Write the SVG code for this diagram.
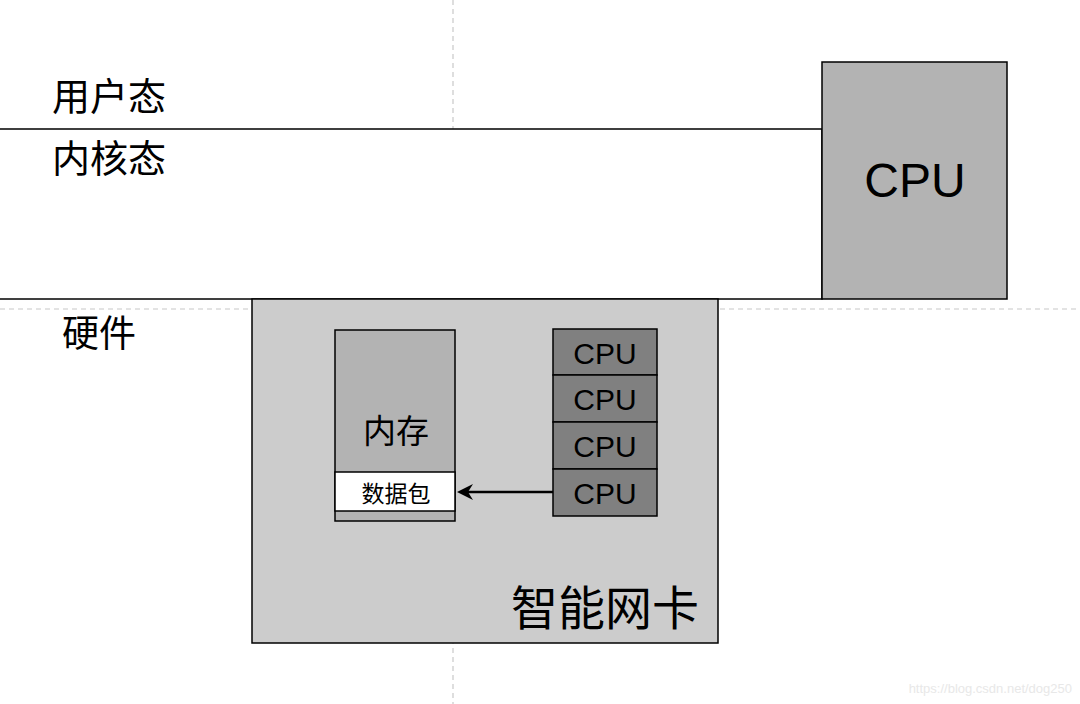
<svg xmlns="http://www.w3.org/2000/svg" width="1080" height="704" viewBox="0 0 1080 704">
<defs>
<style>
.cjk{font-family:"Noto Sans CJK SC","Noto Sans CJK JP",sans-serif;fill:#000}
.lat{font-family:"Liberation Sans",Arial,sans-serif;fill:#000}
.box{stroke:#000;stroke-width:1.5}
.dash{stroke:#c8c8c8;stroke-width:1.2;stroke-dasharray:5 4;fill:none}
</style>
<marker id="ah" viewBox="0 0 16 16" refX="1" refY="8" markerWidth="16" markerHeight="16" markerUnits="userSpaceOnUse" orient="auto">
<path d="M0,8 L16,0 L11,8 L16,16 Z" fill="#000"/>
</marker>
</defs>
<rect width="1080" height="704" fill="#fff"/>
<g id="guides">
<line class="dash" x1="453" y1="0" x2="453" y2="704"/>
<line class="dash" x1="0" y1="309" x2="1080" y2="309"/>
</g>
<g id="kernel">
<rect x="-2" y="129" width="824" height="170" fill="#fff" class="box"/>
</g>
<g id="labels">
<text class="cjk" x="52" y="110" font-size="38">用户态</text>
<text class="cjk" x="52" y="172" font-size="38">内核态</text>
<text class="cjk" x="62" y="347" font-size="37">硬件</text>
</g>
<g id="cpu-main">
<rect x="822" y="62" width="185" height="237" fill="#b3b3b3" class="box"/>
<text class="lat" x="915" y="197" font-size="48" text-anchor="middle">CPU</text>
</g>
<g id="smartnic">
<rect x="252" y="299" width="466" height="344" fill="#cccccc" class="box"/>
<text class="cjk" x="605" y="625" font-size="47" text-anchor="middle">智能网卡</text>
</g>
<g id="memory">
<rect x="335" y="330" width="120" height="191" fill="#b3b3b3" class="box"/>
<text class="cjk" x="396" y="443" font-size="33" text-anchor="middle">内存</text>
</g>
<g id="packet">
<rect x="335" y="472" width="120" height="39" fill="#fff" class="box"/>
<text class="cjk" x="396" y="502" font-size="23" text-anchor="middle">数据包</text>
</g>
<g id="nic-cpus">
<rect x="553" y="329" width="104" height="46" fill="#808080" class="box"/>
<rect x="553" y="375" width="104" height="47" fill="#808080" class="box"/>
<rect x="553" y="422" width="104" height="47" fill="#808080" class="box"/>
<rect x="553" y="469" width="104" height="47" fill="#808080" class="box"/>
<text class="lat" x="605" y="364" font-size="30" text-anchor="middle">CPU</text>
<text class="lat" x="605" y="410" font-size="30" text-anchor="middle">CPU</text>
<text class="lat" x="605" y="457" font-size="30" text-anchor="middle">CPU</text>
<text class="lat" x="605" y="504" font-size="30" text-anchor="middle">CPU</text>
</g>
<g id="connectors">
<line x1="553" y1="492" x2="468" y2="492" stroke="#000" stroke-width="2.5"/>
<path d="M457,492 L473,484 L468,492 L473,500 Z" fill="#000"/>
</g>
<text class="lat" x="1072" y="693" font-size="13" text-anchor="end" style="fill:#e8e8e8">https://blog.csdn.net/dog250</text>
</svg>
